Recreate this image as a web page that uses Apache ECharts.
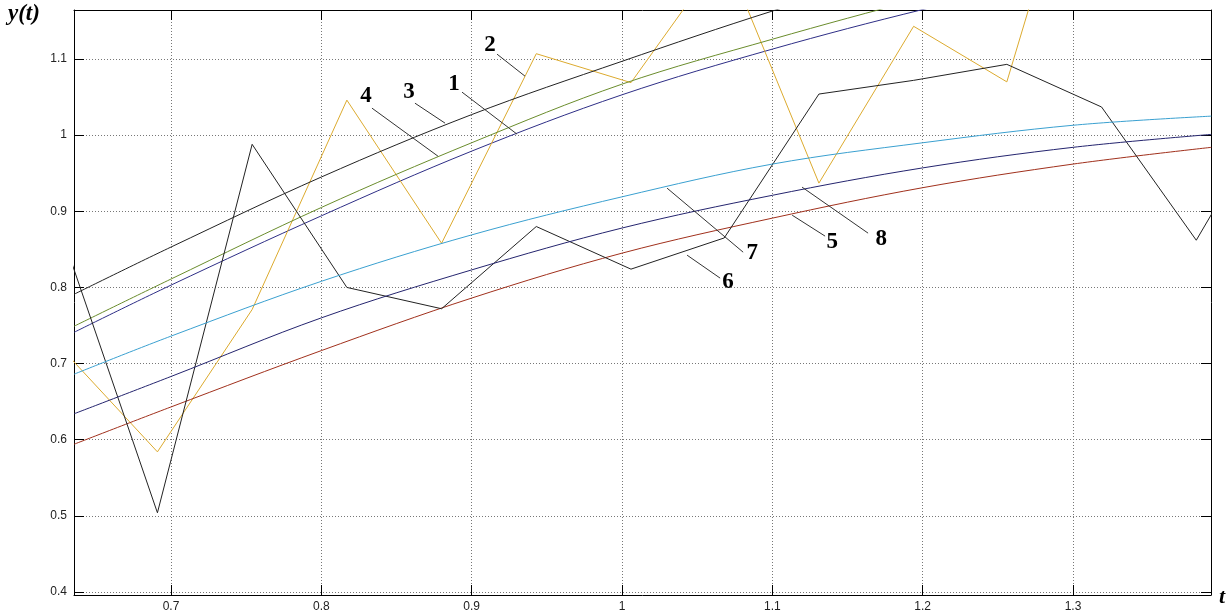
<!DOCTYPE html>
<html><head><meta charset="utf-8">
<script src="https://cdn.jsdelivr.net/npm/echarts@6/dist/echarts.min.js"></script>
<style>html,body{margin:0;padding:0;background:#fff}#c{width:1232px;height:614px}</style>
</head><body><div id="c"></div>
<script>
// axis extents
const xRange = [0.6355, 1.3918];
const yRange = [0.396, 1.1644];

// smooth curves sampled at these t values
const tSmooth = [0.6355, 0.7, 0.8, 0.9, 1.0, 1.1, 1.2, 1.3, 1.392];
const curve1 = [0.741, 0.803, 0.894, 0.979, 1.053, 1.113, 1.165, 1.21, 1.25];
const curve3 = [0.791, 0.853, 0.945, 1.027, 1.097, 1.163, 1.222, 1.272, 1.31];
const curve4 = [0.749, 0.811, 0.905, 0.990, 1.067, 1.126, 1.18, 1.23, 1.27];
const curve5 = [0.594, 0.643, 0.717, 0.786, 0.845, 0.891, 0.931, 0.962, 0.984];
const curve7 = [0.686, 0.736, 0.808, 0.869, 0.919, 0.962, 0.990, 1.013, 1.025];
const curve8 = [0.634, 0.683, 0.760, 0.823, 0.878, 0.921, 0.957, 0.984, 1.001];

// sampled (zigzag) signals
const tStep = [0.629, 0.691, 0.754, 0.817, 0.880, 0.943, 1.006, 1.068, 1.131, 1.194, 1.256, 1.319, 1.382, 1.445];
const signal2 = [0.716, 0.584, 0.771, 1.046, 0.858, 1.107, 1.069, 1.240, 0.937, 1.143, 1.070, 1.485, 1.28, 1.35];
const signal6 = [0.861, 0.504, 0.988, 0.800, 0.772, 0.880, 0.824, 0.865, 1.054, 1.072, 1.093, 1.037, 0.862, 1.074];

// annotation labels: text position, leader start (near label), leader end (on curve)
const annNames = ['1', '2', '3', '4', '5', '6', '7', '8'];
const annText = [[0.8883, 1.067], [0.9122, 1.118], [0.8584, 1.0565], [0.8297, 1.0512], [1.1398, 0.8595], [1.0706, 0.8069], [1.0866, 0.845], [1.1724, 0.8634]];
const annFrom = [[0.8936, 1.0565], [0.9169, 1.1064], [0.8623, 1.042], [0.8337, 1.0355], [1.1351, 0.8674], [1.0653, 0.8122], [1.0806, 0.8463], [1.1637, 0.8713]];
const annTo = [[0.9302, 1.0013], [0.9355, 1.0775], [0.8823, 1.0158], [0.8776, 0.9724], [1.1132, 0.8949], [1.0433, 0.8424], [1.030, 0.9304], [1.1198, 0.9317]];

const colors = {
  '1': '#2e2e86', '2': '#dcaa2e', '3': '#222222', '4': '#6a8c2c',
  '5': '#a0301c', '6': '#222222', '7': '#3aa0d0', '8': '#24246e'
};

function pairs(ts, vs) { return ts.map((t, i) => [t, vs[i]]); }

const seriesDefs = [
  { name: '1', data: pairs(tSmooth, curve1), smooth: true },
  { name: '2', data: pairs(tStep, signal2), smooth: false },
  { name: '3', data: pairs(tSmooth, curve3), smooth: true },
  { name: '4', data: pairs(tSmooth, curve4), smooth: true },
  { name: '5', data: pairs(tSmooth, curve5), smooth: true },
  { name: '6', data: pairs(tStep, signal6), smooth: false },
  { name: '7', data: pairs(tSmooth, curve7), smooth: true },
  { name: '8', data: pairs(tSmooth, curve8), smooth: true }
];

const series = seriesDefs.map(def => {
  const i = annNames.indexOf(def.name);
  return {
    type: 'line', name: def.name, data: def.data, smooth: def.smooth ? 0.35 : false,
    showSymbol: false, symbol: 'none', silent: true, clip: true,
    lineStyle: { color: colors[def.name], width: 1 },
    markLine: {
      silent: true, symbol: 'none', animation: false,
      lineStyle: { color: '#333', width: 1, type: 'solid' },
      label: { show: false },
      data: [[{ coord: annFrom[i] }, { coord: annTo[i] }]]
    },
    markPoint: {
      silent: true, symbol: 'circle', symbolSize: 0, animation: false,
      label: {
        show: true, position: 'inside', formatter: def.name,
        fontFamily: '"Liberation Serif", "Times New Roman", serif',
        fontWeight: 'bold', fontSize: 23, color: '#000'
      },
      data: [{ coord: annText[i] }]
    }
  };
});

const axisLabelStyle = { fontFamily: '"Liberation Sans", Arial, sans-serif', fontSize: 12, color: '#222' };
const gridLine = { show: true, lineStyle: { color: '#777', width: 1, type: [1, 2] } };
const axisLine = { show: true, onZero: false, lineStyle: { color: '#000', width: 1 } };
const tickIn = { show: true, inside: true, length: 10, lineStyle: { color: '#000', width: 1 } };

const option = {
  animation: false,
  backgroundColor: '#fff',
  grid: { left: 74, right: 21, top: 10, bottom: 19, containLabel: false },
  xAxis: [
    { type: 'value', min: xRange[0], max: xRange[1], splitNumber: 8, position: 'bottom',
      axisLine: axisLine, axisTick: tickIn, splitLine: gridLine,
      axisLabel: Object.assign({ margin: 6, showMinLabel: false, showMaxLabel: false }, axisLabelStyle) },
    { type: 'value', min: xRange[0], max: xRange[1], splitNumber: 8, position: 'top',
      axisLine: axisLine, axisTick: tickIn, splitLine: { show: false }, axisLabel: { show: false } }
  ],
  yAxis: [
    { type: 'value', min: yRange[0], max: yRange[1], splitNumber: 8, position: 'left',
      axisLine: axisLine, axisTick: tickIn, splitLine: gridLine,
      axisLabel: Object.assign({ margin: 7, showMinLabel: false, showMaxLabel: false }, axisLabelStyle) },
    { type: 'value', min: yRange[0], max: yRange[1], splitNumber: 8, position: 'right',
      axisLine: axisLine, axisTick: tickIn, splitLine: { show: false }, axisLabel: { show: false } }
  ],
  graphic: [
    { type: 'text', left: 8, top: 3, silent: true,
      style: { text: 'y(t)', fontFamily: '"Liberation Serif", "Times New Roman", serif',
        fontStyle: 'italic', fontWeight: 'bold', fontSize: 23, fill: '#000' } },
    { type: 'text', left: 1219, top: 586, silent: true,
      style: { text: 't', fontFamily: '"Liberation Serif", "Times New Roman", serif',
        fontStyle: 'italic', fontWeight: 'bold', fontSize: 22, fill: '#000' } }
  ],
  series: series
};

const chart = echarts.init(document.getElementById('c'), null, { renderer: 'canvas' });
chart.setOption(option);
</script>
</body></html>
